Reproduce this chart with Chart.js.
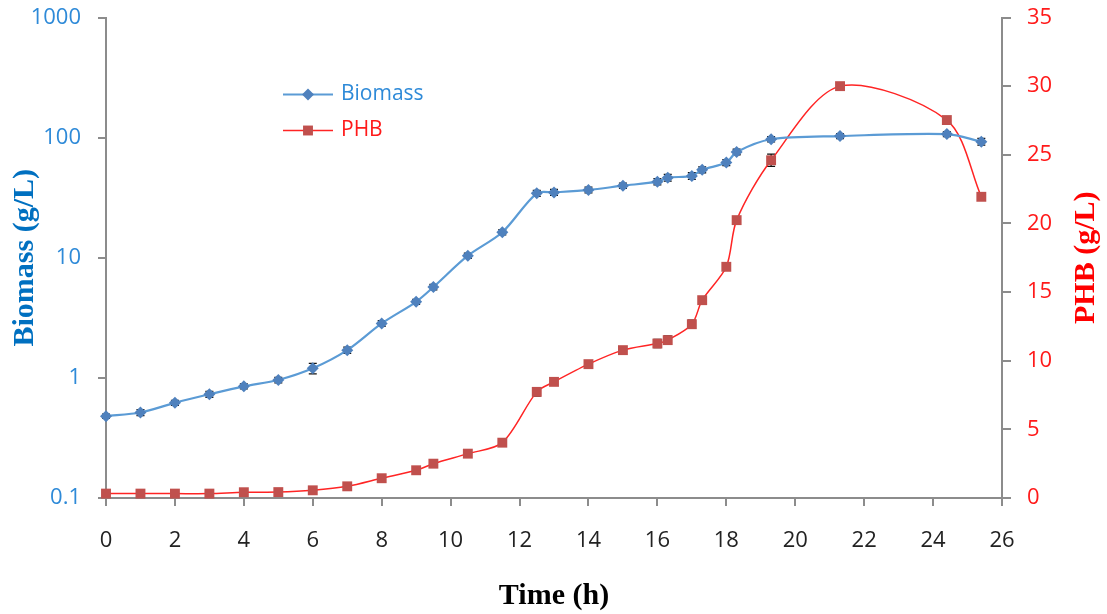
<!DOCTYPE html>
<html>
<head>
<meta charset="utf-8">
<script src="https://cdn.jsdelivr.net/npm/chart.js@4/dist/chart.umd.min.js"></script>
<style>
  html, body { margin: 0; padding: 0; background: #fff; }
  #wrap { width: 1107px; height: 614px; position: relative; }
</style>
</head>
<body>
<div id="wrap"><canvas id="growthChart"></canvas></div>
<script>
// sampling times (h)
const hours = [0, 1, 2, 3, 4, 5, 6, 7, 8, 9, 9.5, 10.5, 11.5, 12.5, 13, 14, 15, 16, 16.3, 17, 17.3, 18, 18.3, 19.3, 21.3, 24.4, 25.4];

// biomass (g/L) and PHB (g/L) at each sampling time
const biomass = [0.48, 0.515, 0.62, 0.73, 0.85, 0.96, 1.2, 1.7, 2.84, 4.3, 5.7, 10.4, 16.3, 34.4, 35, 36.7, 39.8, 43, 46.4, 48, 54, 62, 76, 97, 103, 107, 92.6];
const phb = [0.32, 0.32, 0.32, 0.32, 0.42, 0.43, 0.56, 0.85, 1.44, 2.02, 2.5, 3.23, 4.03, 7.73, 8.46, 9.75, 10.77, 11.25, 11.5, 12.66, 14.41, 16.84, 20.24, 24.6, 30.0, 27.53, 21.94];

// standard deviations
const biomassErr = [0.02, 0.03, 0.03, 0.04, 0.04, 0.05, 0.12, 0.1, 0.15, 0.2, 0.3, 0.5, 0.8, 2, 2, 2, 2, 2.5, 3, 3, 3, 3.5, 4, 5, 5, 5, 6];
const phbErr = [0.1, 0.1, 0.1, 0.1, 0.1, 0.1, 0.15, 0.1, 0.1, 0.1, 0.1, 0.1, 0.15, 0.3, 0.2, 0.2, 0.2, 0.3, 0.3, 0.3, 0.2, 0.2, 0.2, 0.45, 0.2, 0.25, 0.2];

// axis ticks
const xTicks = [0, 2, 4, 6, 8, 10, 12, 14, 16, 18, 20, 22, 24, 26];
const biomassTicks = [0.1, 1, 10, 100, 1000];
const phbTicks = [0, 5, 10, 15, 20, 25, 30, 35];

const axisGray = '#8c8c8c';
const tickFont = { family: 'Open Sans', size: 22 };
const titleFont = { family: 'Liberation Serif', size: 30, weight: 'bold' };

const toPoints = vals => hours.map((h, i) => ({ x: h, y: vals[i] }));

// keep the vertical axes from pushing the plot down for their end labels
const fitVertical = width => s => {
  s.width = width;
  s.paddingTop = 0;
  s.paddingBottom = 0;
};

// vertical error bars drawn under the markers
const errorBars = {
  id: 'errorBars',
  beforeDatasetsDraw(chart) {
    const ctx = chart.ctx;
    const xs = chart.scales.x;
    ctx.save();
    ctx.strokeStyle = '#111';
    ctx.lineWidth = 1.3;
    chart.data.datasets.forEach(ds => {
      const ys = chart.scales[ds.yAxisID];
      ds.data.forEach((p, i) => {
        const e = ds.errors[i];
        const px = xs.getPixelForValue(p.x);
        const top = ys.getPixelForValue(p.y + e);
        const bot = ys.getPixelForValue(Math.max(p.y - e, ys.min));
        ctx.beginPath();
        ctx.moveTo(px, top); ctx.lineTo(px, bot);
        ctx.moveTo(px - 4, top); ctx.lineTo(px + 4, top);
        ctx.moveTo(px - 4, bot); ctx.lineTo(px + 4, bot);
        ctx.stroke();
      });
    });
    ctx.restore();
  }
};

// legend inside the plot plus the right-hand axis title (reads bottom to top)
const extras = {
  id: 'extras',
  afterDraw(chart) {
    const ctx = chart.ctx;
    const a = chart.chartArea;
    ctx.save();
    chart.data.datasets.forEach((ds, i) => {
      const y = a.top + 77 + i * 36;
      const x0 = a.left + 177, x1 = a.left + 227, xm = (x0 + x1) / 2;
      ctx.strokeStyle = ds.borderColor;
      ctx.lineWidth = ds.borderWidth;
      ctx.beginPath(); ctx.moveTo(x0, y); ctx.lineTo(x1, y); ctx.stroke();
      ctx.fillStyle = ds.pointBackgroundColor;
      const r = ds.pointRadius;
      ctx.beginPath();
      if (ds.pointStyle === 'rectRot') {
        ctx.moveTo(xm, y - r); ctx.lineTo(xm + r, y); ctx.lineTo(xm, y + r); ctx.lineTo(xm - r, y);
        ctx.closePath();
      } else {
        const s = r * Math.SQRT1_2;
        ctx.rect(xm - s, y - s, 2 * s, 2 * s);
      }
      ctx.fill();
      ctx.fillStyle = ds.legendColor;
      ctx.font = '21px "Open Sans"';
      ctx.textBaseline = 'middle';
      ctx.textAlign = 'left';
      ctx.fillText(ds.label, x1 + 8, y);
    });

    const r = chart.scales.y1;
    ctx.translate(r.right - 21, (r.top + r.bottom) / 2);
    ctx.rotate(-Math.PI / 2);
    ctx.fillStyle = '#ff0000';
    ctx.font = 'bold 30px "Liberation Serif"';
    ctx.textAlign = 'center';
    ctx.textBaseline = 'middle';
    ctx.fillText('PHB (g/L)', 0, 0);
    ctx.restore();
  }
};

new Chart(document.getElementById('growthChart'), {
  type: 'line',
  data: {
    datasets: [
      {
        label: 'Biomass',
        data: toPoints(biomass),
        errors: biomassErr,
        yAxisID: 'y',
        borderColor: '#5b9bd5',
        borderWidth: 2.2,
        pointStyle: 'rectRot',
        pointRadius: 6,
        pointBackgroundColor: '#4f81bd',
        pointBorderWidth: 0,
        legendColor: '#2e8ad8',
        tension: 0.3,
        clip: false
      },
      {
        label: 'PHB',
        data: toPoints(phb),
        errors: phbErr,
        yAxisID: 'y1',
        borderColor: '#ff2424',
        borderWidth: 1.5,
        pointStyle: 'rect',
        pointRadius: 7,
        pointBackgroundColor: '#c0504d',
        pointBorderWidth: 0,
        legendColor: '#ff1a1a',
        tension: 0.3,
        clip: false
      }
    ]
  },
  options: {
    responsive: true,
    maintainAspectRatio: false,
    animation: false,
    layout: { padding: { top: 17.5, left: 0, right: 0, bottom: 0 } },
    plugins: { legend: { display: false }, tooltip: { enabled: false } },
    scales: {
      x: {
        type: 'linear',
        min: 0,
        max: 26,
        afterFit: s => { s.height = 116; s.paddingLeft = 0; s.paddingRight = 0; },
        afterBuildTicks: s => { s.ticks = xTicks.map(v => ({ value: v })); },
        ticks: { color: '#222', font: tickFont, padding: 22, maxRotation: 0 },
        grid: { drawOnChartArea: false, tickLength: 8, color: axisGray, lineWidth: 2 },
        border: { color: axisGray, width: 2 },
        title: { display: true, text: 'Time (h)', color: '#000', font: titleFont, padding: { top: 0, bottom: 0 } }
      },
      y: {
        type: 'logarithmic',
        position: 'left',
        min: 0.1,
        max: 1000,
        afterFit: fitVertical(106),
        afterBuildTicks: s => { s.ticks = biomassTicks.map(v => ({ value: v })); },
        ticks: { color: '#2e8ad8', font: tickFont, padding: 17, callback: v => String(v) },
        grid: { drawOnChartArea: false, tickLength: 8, color: axisGray, lineWidth: 2 },
        border: { color: axisGray, width: 2 },
        title: { display: true, text: 'Biomass (g/L)', color: '#0070c0', font: titleFont, padding: { top: 7, bottom: 0 } }
      },
      y1: {
        type: 'linear',
        position: 'right',
        min: 0,
        max: 35,
        afterFit: fitVertical(105),
        afterBuildTicks: s => { s.ticks = phbTicks.map(v => ({ value: v })); },
        ticks: { color: '#ff1a1a', font: tickFont, padding: 16 },
        grid: { drawOnChartArea: false, tickLength: 9, color: axisGray, lineWidth: 2 },
        border: { color: axisGray, width: 2 }
      }
    }
  },
  plugins: [errorBars, extras]
});
</script>
</body>
</html>
